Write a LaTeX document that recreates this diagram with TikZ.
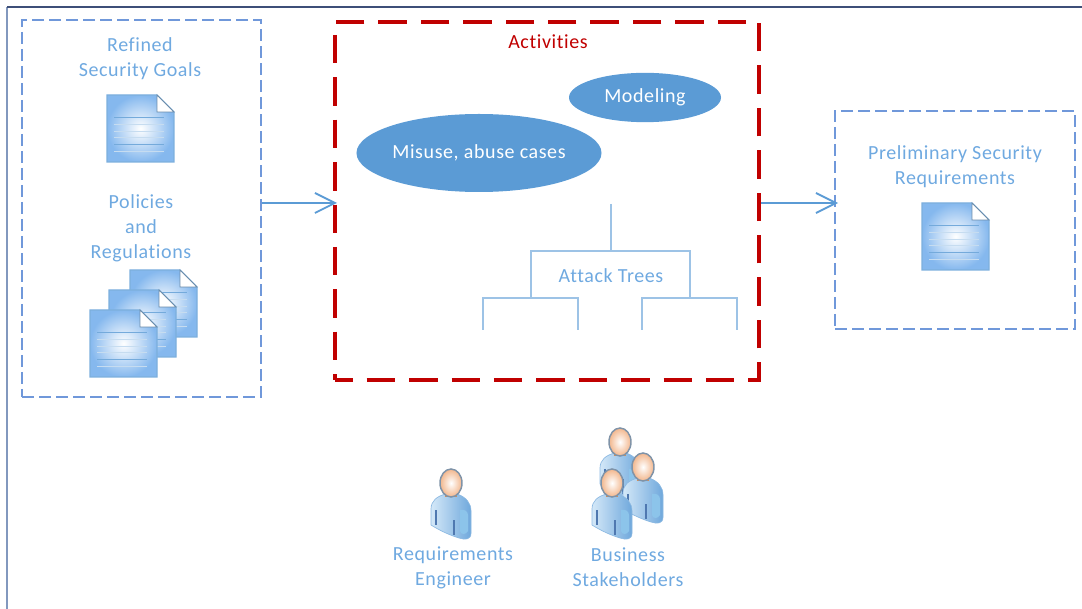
\documentclass[tikz,border=0pt]{standalone}
\usepackage{fontspec}
\setmainfont[LetterSpace=3,Ligatures=NoCommon]{Carlito}
\usetikzlibrary{arrows.meta,shapes.geometric}
\definecolor{labelblue}{HTML}{6FA9E0}
\definecolor{boxblue}{HTML}{7098DA}
\definecolor{lineblue}{HTML}{5B9BD5}
\definecolor{treeblue}{HTML}{9DC3E6}
\definecolor{docblue}{HTML}{85B8EE}
\definecolor{activityred}{HTML}{C00000}
\definecolor{framedark}{HTML}{3E4F78}
\definecolor{framelight}{HTML}{8298BE}
\definecolor{skin}{HTML}{F2B68C}
\definecolor{neck}{HTML}{D98F55}
\definecolor{headline}{HTML}{7F93A8}
\definecolor{shirtlight}{HTML}{D4E8F8}
\definecolor{shirtdark}{HTML}{6FA8DC}
\definecolor{sleeve}{HTML}{8CC4EA}
\definecolor{crease}{HTML}{4F78B0}
\begin{document}
\begin{tikzpicture}[x=0.75pt,y=-0.75pt,>={Straight Barb[length=15pt,width=15pt,line width=1.4pt]},
    every node/.style={font=\fontsize{15}{18.75}\selectfont,align=center,inner sep=0pt},
    label/.style={text=labelblue},
    inputbox/.style={draw=boxblue,line width=1.5pt,dash pattern=on 9pt off 3.75pt},
    activitybox/.style={draw=activityred,line width=3pt,dash pattern=on 21.3pt off 10.5pt,dash phase=8pt},
    technique/.style={ellipse,fill=lineblue,text=white},
    flow/.style={->,draw=lineblue,line width=1.4pt,shorten >=-3pt},
    tree/.style={draw=treeblue,line width=1.3pt},
    doc/.pic={
      \draw[draw=lineblue!80,line width=0.8pt,inner color=white,outer color=docblue]
        (0,0) -- (50,0) -- (67,17) -- (67,67) -- (0,67) -- cycle;
      \draw[draw=lineblue!50!gray,fill=white,line width=0.7pt] (50,0) -- (67,17) -- (50,17) -- cycle;
      \foreach \y in {29,36,42,56}
        \draw[lineblue!35,line width=0.5pt] (7,\y) -- (57,\y);
      \foreach \y in {22,49}
        \draw[lineblue!85,line width=0.6pt] (7,\y) -- (57,\y);
    },
    person/.pic={
      \draw[draw=lineblue!70,line width=0.5pt,left color=shirtlight,right color=shirtdark]
        (-5,11) .. controls (-14,13) and (-20,18) .. (-20,26) -- (-20,42)
        .. controls (-12,47) and (-2,52) .. (8,55) .. controls (14,57) and (20,57) .. (20,50)
        -- (20,28) .. controls (20,20) and (15,14) .. (6,11) -- cycle;
      \fill[sleeve] (9,27) .. controls (13,26) and (17,28) .. (17,32) -- (17,48) .. controls (15,52) and (10,52) .. (9,48) -- cycle;
      \draw[crease,line width=0.9pt] (-15,27) -- (-15,42) (3,37) -- (3,52);
      \fill[neck] (-6,8) rectangle (6,14);
      \draw[draw=headline,line width=1.1pt,inner color=white,outer color=skin] (0,0) ellipse (11 and 14);
    }]
  \useasboundingbox (0,0) rectangle (1082,609);
  \draw[framelight,line width=1.5pt] (7,609) -- (7,7);
  \draw[framedark,line width=0.8pt] (7,7) -- (1082,7);

  \node[inputbox,minimum width=179.25pt,minimum height=282.75pt] (inputs) at (141.5,208.5) {};
  \node[activitybox,minimum width=318pt,minimum height=268.5pt] (activities) at (547,201) {};
  \node[inputbox,minimum width=180pt,minimum height=163.5pt] (outputs) at (955,220) {};

  \node[label] (goalslabel) at (140,59) {Refined\\Security Goals};
  \pic at (107,95) {doc};
  \node[label] (policieslabel) at (141,228.5) {Policies\\and\\Regulations};
  \pic at (130,270) {doc};
  \pic at (109,290) {doc};
  \pic at (90,310) {doc};

  \node[text=activityred] (activitieslabel) at (548,42) {Activities};
  \node[technique,minimum width=114pt,minimum height=37pt] (modeling) at (645,97.5) {Modeling};
  \node[technique,minimum width=180pt,minimum height=58.5pt] (misuse) at (479,153) {Misuse, abuse cases};

  \node[label] (attacktrees) at (611,276) {Attack Trees};
  \coordinate (treeroot) at (611,204);
  \coordinate (treejoin) at (611,251);
  \coordinate (leftjoin) at (531,298);
  \coordinate (rightjoin) at (690,298);
  \coordinate (leaf1) at (483,330);
  \coordinate (leaf2) at (578,330);
  \coordinate (leaf3) at (642,330);
  \coordinate (leaf4) at (737,330);
  \draw[tree] (treeroot) -- (treejoin);
  \draw[tree] (leftjoin) -- (leftjoin |- treejoin) -- (rightjoin |- treejoin) -- (rightjoin);
  \draw[tree] (leaf1) -- (leaf1 |- leftjoin) -- (leaf2 |- leftjoin) -- (leaf2);
  \draw[tree] (leaf3) -- (leaf3 |- rightjoin) -- (leaf4 |- rightjoin) -- (leaf4);

  \coordinate (flowrow) at (0,203);
  \draw[flow] (inputs.east |- flowrow) -- (activities.west |- flowrow);
  \draw[flow] (activities.east |- flowrow) -- (outputs.west |- flowrow);

  \node[label] (prelimlabel) at (955,166.5) {Preliminary Security\\Requirements};
  \pic at (922,203) {doc};

  \pic at (451,483) {person};
  \node[label] (engineer) at (453,567.5) {Requirements\\Engineer};
  \pic at (620,442) {person};
  \pic at (643,467) {person};
  \pic at (612,483) {person};
  \node[label] (stakeholders) at (628,567.5) {Business\\Stakeholders};
\end{tikzpicture}
\end{document}
